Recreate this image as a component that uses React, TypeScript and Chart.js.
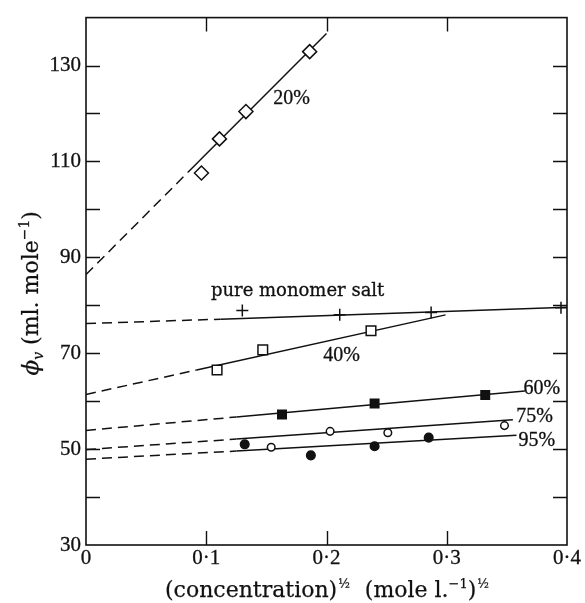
import React, { useEffect, useRef } from 'react';
import { Chart, registerables } from 'chart.js';

Chart.register(...registerables);

const W = 585;
const H = 603;
const NUM_FONT = '"Liberation Serif", "DejaVu Serif", serif';
const TXT_FONT = '"DejaVu Serif", "Liberation Serif", serif';
const INK = '#111111';

// ---- measured points ----
const X20 = [0.096, 0.111, 0.133, 0.186];
const Y20 = [107.6, 114.7, 120.4, 132.9];
const XPURE = [0.130, 0.211, 0.287, 0.395];
const YPURE = [78.9, 78.0, 78.5, 79.5];
const X40 = [0.109, 0.147, 0.237];
const Y40 = [66.5, 70.7, 74.7];
const X60 = [0.163, 0.240, 0.332];
const Y60 = [57.2, 59.5, 61.3];
const X75 = [0.154, 0.203, 0.251, 0.348];
const Y75 = [50.4, 53.7, 53.4, 54.9];
const X95 = [0.132, 0.187, 0.240, 0.285];
const Y95 = [51.0, 48.7, 50.6, 52.4];

// ---- fitted lines: [start, end of dashed part, end of solid part] ----
const FIT20_X = [0, 0.085, 0.2];
const FIT20_Y = [86.4, 107.8, 136.7];
const FITPURE_X = [0, 0.112, 0.4];
const FITPURE_Y = [76.2, 77.1, 79.6];
const FIT40_X = [0, 0.092, 0.299];
const FIT40_Y = [61.4, 66.5, 78.0];
const FIT60_X = [0, 0.125, 0.365];
const FIT60_Y = [53.9, 56.7, 62.1];
const FIT75_X = [0, 0.125, 0.355];
const FIT75_Y = [49.9, 52.1, 56.1];
const FIT95_X = [0, 0.125, 0.358];
const FIT95_Y = [47.9, 49.6, 52.9];

// ---- series labels (placed in data units) ----
const SERIES_LABELS = ['20%', 'pure monomer salt', '40%', '60%', '75%', '95%'];
const LABEL_X = [0.171, 0.176, 0.2125, 0.379, 0.373, 0.375];
const LABEL_Y = [123.1, 83.0, 69.5, 62.6, 56.7, 51.8];

// ---- axes ----
const X_MIN = 0;
const X_MAX = 0.4;
const X_STEP = 0.1;
const X_TICK_LABELS = ['0', '0·1', '0·2', '0·3', '0·4'];
const Y_MIN = 30;
const Y_MAX = 140;
const Y_STEP = 10;
const Y_LABELED = [30, 50, 70, 90, 110, 130];

type Seg = { t: string; size: number; dy?: number; italic?: boolean; gap?: number };
const X_TITLE: Seg[] = [
  { t: '(concentration)', size: 22 },
  { t: '½', size: 12, dy: -9, gap: 1 },
  { t: '  (mole l.', size: 22 },
  { t: '−1', size: 13, dy: -9 },
  { t: ')', size: 22 },
  { t: '½', size: 12, dy: -9, gap: 1 },
];
const Y_TITLE: Seg[] = [
  { t: 'ϕ', size: 23, italic: true },
  { t: 'v', size: 14, dy: 5, italic: true },
  { t: ' (ml. mole', size: 22 },
  { t: '−1', size: 14, dy: -9 },
  { t: ')', size: 22 },
];

const pts = (xs: number[], ys: number[]) => xs.map((x, i) => ({ x, y: ys[i] }));

function drawRich(ctx: CanvasRenderingContext2D, segs: Seg[], cx: number, cy: number, rot: number) {
  ctx.save();
  ctx.translate(cx, cy);
  ctx.rotate(rot);
  ctx.textAlign = 'left';
  ctx.textBaseline = 'alphabetic';
  ctx.fillStyle = INK;
  ctx.strokeStyle = INK;
  ctx.lineWidth = 0.25;
  const fontOf = (s: Seg) => `${s.italic ? 'italic ' : ''}${s.size}px ${TXT_FONT}`;
  const widths = segs.map((s) => {
    ctx.font = fontOf(s);
    return ctx.measureText(s.t).width + (s.gap || 0) * 2;
  });
  const total = widths.reduce((a, b) => a + b, 0);
  let xx = -total / 2;
  segs.forEach((s, i) => {
    ctx.font = fontOf(s);
    ctx.fillText(s.t, xx + (s.gap || 0), 6 + (s.dy || 0));
    ctx.strokeText(s.t, xx + (s.gap || 0), 6 + (s.dy || 0));
    xx += widths[i];
  });
  ctx.restore();
}

const decor = {
  id: 'decor',
  beforeDraw(chart: any) {
    const ctx = chart.ctx;
    ctx.save();
    ctx.fillStyle = '#fff';
    ctx.fillRect(0, 0, chart.width, chart.height);
    ctx.restore();
  },
  afterDraw(chart: any) {
    const ctx: CanvasRenderingContext2D = chart.ctx;
    const a = chart.chartArea;
    const x = chart.scales.x;
    const y = chart.scales.y;
    ctx.save();
    ctx.strokeStyle = INK;
    ctx.lineWidth = 1.6;
    ctx.strokeRect(a.left, a.top, a.right - a.left, a.bottom - a.top);
    const TL = 14;
    ctx.lineWidth = 1.4;
    ctx.beginPath();
    y.ticks.forEach((t: any) => {
      if (t.value <= y.min || t.value >= y.max) return;
      const py = Math.round(y.getPixelForValue(t.value)) + 0.5;
      ctx.moveTo(a.left, py);
      ctx.lineTo(a.left + TL, py);
      ctx.moveTo(a.right, py);
      ctx.lineTo(a.right - TL, py);
    });
    x.ticks.forEach((t: any) => {
      if (t.value <= x.min + 1e-9 || t.value >= x.max - 1e-9) return;
      const px = Math.round(x.getPixelForValue(t.value)) + 0.5;
      ctx.moveTo(px, a.bottom);
      ctx.lineTo(px, a.bottom - TL);
      ctx.moveTo(px, a.top);
      ctx.lineTo(px, a.top + TL);
    });
    ctx.stroke();

    ctx.fillStyle = INK;
    ctx.textAlign = 'center';
    ctx.textBaseline = 'middle';
    ctx.lineWidth = 0.3;
    SERIES_LABELS.forEach((s, i) => {
      ctx.font = i === 1 ? `18px ${TXT_FONT}` : `20px ${NUM_FONT}`;
      const px = x.getPixelForValue(LABEL_X[i]);
      const py = y.getPixelForValue(LABEL_Y[i]);
      ctx.fillText(s, px, py);
      ctx.strokeText(s, px, py);
    });
    ctx.restore();

    drawRich(ctx, X_TITLE, (a.left + a.right) / 2 + 1, a.bottom + 46, 0);
    drawRich(ctx, Y_TITLE, a.left - 54, (a.top + a.bottom) / 2 + 12, -Math.PI / 2);
  },
};

const dashFirst = { borderDash: (c: any) => (c.p0DataIndex === 0 ? [10, 6] : []) };

function fit(xs: number[], ys: number[]) {
  return {
    data: pts(xs, ys),
    showLine: true,
    borderColor: INK,
    borderWidth: 1.5,
    pointRadius: 0,
    segment: dashFirst,
    order: 2,
  };
}

function marks(xs: number[], ys: number[], style: string, r: number, filled: boolean) {
  return {
    data: pts(xs, ys),
    showLine: false,
    pointStyle: style,
    pointRadius: r,
    pointBorderColor: INK,
    pointBackgroundColor: filled ? INK : '#fff',
    pointBorderWidth: 1.5,
    order: 1,
  };
}

export default function App() {
  const ref = useRef<HTMLCanvasElement>(null);
  useEffect(() => {
    if (!ref.current) return;
    const tickFont = { family: NUM_FONT, size: 21 };
    const chart = new Chart(ref.current, {
      type: 'scatter',
      data: {
        datasets: [
          marks(X20, Y20, 'rectRot', 7, false),
          marks(XPURE, YPURE, 'cross', 6, false),
          marks(X40, Y40, 'rect', 6.8, false),
          marks(X60, Y60, 'rect', 6, true),
          marks(X75, Y75, 'circle', 3.8, false),
          marks(X95, Y95, 'circle', 4.3, true),
          fit(FIT20_X, FIT20_Y),
          fit(FITPURE_X, FITPURE_Y),
          fit(FIT40_X, FIT40_Y),
          fit(FIT60_X, FIT60_Y),
          fit(FIT75_X, FIT75_Y),
          fit(FIT95_X, FIT95_Y),
        ] as any,
      },
      options: {
        responsive: false,
        devicePixelRatio: 1,
        animation: false,
        layout: { padding: { left: 0, right: 18, top: 14, bottom: 0 } },
        plugins: { legend: { display: false }, tooltip: { enabled: false } },
        scales: {
          x: {
            type: 'linear',
            min: X_MIN,
            max: X_MAX,
            grid: { display: false, drawTicks: false },
            border: { display: false },
            ticks: {
              stepSize: X_STEP,
              font: tickFont,
              color: INK,
              textStrokeColor: INK,
              textStrokeWidth: 0.3,
              padding: 1,
              maxRotation: 0,
              callback: (_v: any, i: number) => X_TICK_LABELS[i] ?? '',
            },
            afterFit: (s: any) => {
              s.height = 58;
            },
          },
          y: {
            type: 'linear',
            min: Y_MIN,
            max: Y_MAX,
            grid: { display: false, drawTicks: false },
            border: { display: false },
            ticks: {
              stepSize: Y_STEP,
              font: tickFont,
              color: INK,
              textStrokeColor: INK,
              textStrokeWidth: 0.3,
              padding: 5,
              callback: (v: any) => (Y_LABELED.includes(Number(v)) ? String(v) : ''),
            },
            afterFit: (s: any) => {
              s.width = 86;
            },
          },
        },
      },
      plugins: [decor],
    });
    return () => chart.destroy();
  }, []);
  return (
    <div style={{ position: 'fixed', left: 0, top: 0, width: W, height: H, background: '#fff' }}>
      <canvas ref={ref} width={W} height={H} style={{ display: 'block', width: W, height: H }} />
    </div>
  );
}
